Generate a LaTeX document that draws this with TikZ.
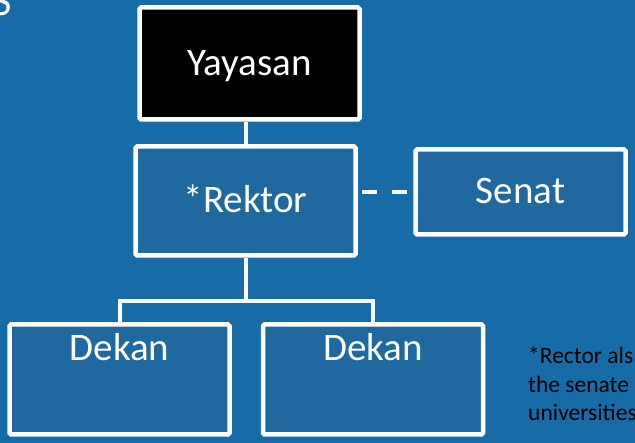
\documentclass[tikz,border=0pt]{standalone}
\usepackage{fontspec}
\setmainfont{Carlito}
\usetikzlibrary{positioning}

\definecolor{slidebg}{RGB}{23,107,166}
\definecolor{boxfill}{RGB}{31,105,160}

\begin{document}
\begin{tikzpicture}[x=1pt,y=-1pt,
  orgbox/.style={draw=white,line width=4.5pt,fill=boxfill,rounded corners=1.5pt,
    inner sep=0pt,text=white,font=\fontsize{39}{41}\selectfont,
    text height=24pt,text depth=0pt},
  orgtext/.style={inner sep=0pt,outer sep=0pt,text=white,
    font=\fontsize{39}{41}\selectfont,text height=24pt,text depth=0pt},
  link/.style={draw=white,line width=4pt},
  note/.style={inner sep=0pt,text=black,align=left,
    font=\fontsize{23.5}{28.5}\selectfont}]
%slide background
\useasboundingbox (0,0) rectangle (635,443);
\clip (0,0) rectangle (635,443);
\fill[slidebg] (0,0) rectangle (635,443);

%title remnant
\node[orgtext,anchor=base east,font=\fontsize{42}{44}\selectfont] (title) at (12,16) {S};

%boxes
\node[orgbox,fill=black,minimum width=220pt,minimum height=112pt] (yayasan) at (249.5,63.5) {Yayasan};
\node[orgbox,minimum width=220pt,minimum height=109pt] (rektor) at (245.5,201) {*Rektor};
\node[orgbox,minimum width=210pt,minimum height=85pt] (senat) at (520.5,192) {Senat};
\node[orgbox,minimum width=220pt,minimum height=110pt] (dekanL) at (119.5,379.5) {};
\node[orgbox,minimum width=220pt,minimum height=110pt] (dekanR) at (373,379.5) {};
\node[orgtext,below=14pt of dekanL.north] (dekanLtext) {Dekan};
\node[orgtext,below=14pt of dekanR.north] (dekanRtext) {Dekan};

%connectors
\draw[link] (yayasan.south -| rektor.north) -- (rektor.north);
\draw[link] (rektor.south) -- ++(0,43) coordinate (fork) -| (dekanL.north);
\draw[link] (fork) -| (dekanR.north);
\draw[link,dash pattern=on 15pt off 15pt,dash phase=25.75pt] (rektor.east |- senat.west) -- (senat.west);

%footnote (base = last line)
\node[note,anchor=base west] (footnote) at (528,421) {*Rector als\\the senate\\universities};
\end{tikzpicture}
\end{document}
